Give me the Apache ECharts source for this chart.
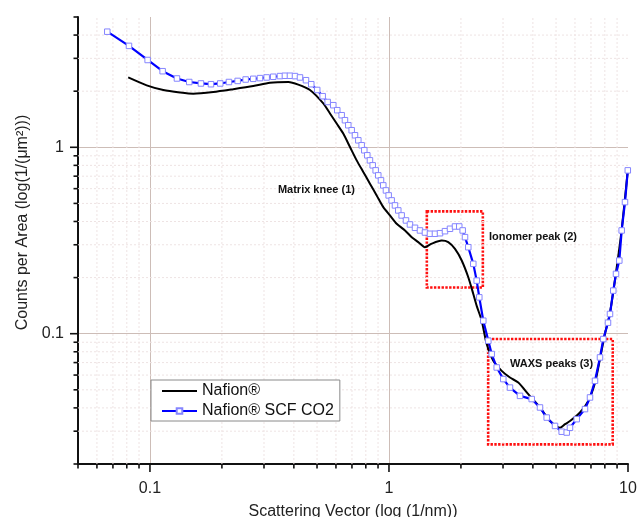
<!DOCTYPE html>
<html><head><meta charset="utf-8">
<script src="https://cdn.jsdelivr.net/npm/echarts@6/dist/echarts.min.js"></script>
<style>html,body{margin:0;padding:0;background:#fff}#c{width:637px;height:517px}</style>
</head><body><div id="c"></div>
<script>
// ---- data ----
const nafionX = [0.0811,0.0969,0.1137,0.1335,0.1518,0.184,0.2231,0.2705,0.3177,0.3791,0.4174,0.4671,0.531,0.5665,0.6042,0.6437,0.6868,0.7326,0.7808,0.8325,0.8882,0.9466,1.0097,1.077,1.167,1.245,1.326,1.414,1.509,1.662,1.77,1.889,2.015,2.147,2.253,2.334,2.443,2.564,2.732,2.962,3.208,3.475,3.826,4.283,4.718,5.193,5.449,5.719,6.297,6.823,7.277,7.635,8.013,8.408,8.909,9.41,9.98];
const nafionY = [2.37,2.15,2.03,1.97,1.94,1.98,2.05,2.13,2.22,2.24,2.17,2.03,1.72,1.518,1.341,1.185,1.004,0.851,0.737,0.638,0.552,0.4775,0.431,0.389,0.358,0.3295,0.31,0.291,0.304,0.316,0.31,0.285,0.247,0.2008,0.1634,0.1397,0.1174,0.088,0.0716,0.0632,0.0582,0.0547,0.0474,0.0402,0.034,0.0313,0.0327,0.034,0.0378,0.0436,0.0545,0.0734,0.1,0.1297,0.213,0.362,0.752];
const scfX = [0.0663,0.0817,0.0978,0.113,0.1297,0.146,0.1634,0.18,0.1968,0.214,0.2328,0.2514,0.2705,0.2885,0.3078,0.328,0.3499,0.367,0.3852,0.4044,0.4243,0.4495,0.473,0.501,0.528,0.554,
  0.5847,0.6076,0.634,0.6544,0.6757,0.6982,0.7208,0.7443,0.7686,0.7884,0.8114,0.8325,0.8548,0.8798,0.902,0.926,0.9466,0.9714,0.997,1.026,1.0595,1.0937,1.13,1.178,1.224,1.285,1.348,1.414,1.484,1.557,1.635,1.715,1.8,1.889,1.968,2.034,2.08,
  2.147,2.253,2.328,2.387,2.481,2.604,2.69,2.823,3.008,3.208,3.533,3.955,4.283,4.569,4.95,5.28,5.541,5.719,6.1,6.608,6.935,7.277,7.635,7.884,8.247,8.408,8.678,8.909,9.196,9.41,9.714,9.98];
const scfY = [4.17,3.5,2.94,2.56,2.34,2.24,2.2,2.18,2.2,2.24,2.27,2.31,2.33,2.35,2.37,2.39,2.41,2.42,2.42,2.41,2.37,2.29,2.18,2.03,1.88,1.75,
  1.682,1.581,1.486,1.397,1.313,1.234,1.16,1.09,1.025,0.9636,0.9057,0.851,0.8003,0.752,0.707,0.6646,0.6246,0.587,0.5519,0.5188,0.4878,0.4585,0.431,0.4051,0.3855,0.37,0.358,0.349,0.3436,0.3436,0.346,0.3548,0.3655,0.376,0.376,0.358,0.3295,
  0.291,0.237,0.1927,0.1567,0.1174,0.0917,0.0778,0.0659,0.0571,0.0514,0.0464,0.0446,0.0402,0.0355,0.032,0.0298,0.0295,0.0313,0.0348,0.0394,0.0455,0.0559,0.0746,0.0936,0.1146,0.1276,0.1703,0.2094,0.2469,0.358,0.508,0.752];
const seriesNames = ['Nafion®', 'Nafion® SCF CO2'];
const xRange = [0.05, 10];
const yRange = [0.02, 5];
const xTickLabels = ['0.1', '1', '10'];
const yTickLabels = ['0.1', '1'];
const xMajorTicks = [0.1, 1, 10];
const yMajorTicks = [0.1, 1];
const xMinorTicks = [0.05,0.06,0.07,0.08,0.09,0.2,0.3,0.4,0.5,0.6,0.7,0.8,0.9,2,3,4,5,6,7,8,9];
const yMinorTicks = [0.02,0.03,0.04,0.05,0.06,0.07,0.08,0.09,0.2,0.3,0.4,0.5,0.6,0.7,0.8,0.9,2,3,4,5];
const boxIonomer = [[1.44, 0.453], [2.47, 0.177]];
const boxWaxs = [[2.60, 0.0936], [8.63, 0.0255]];
const annotTexts = ['Matrix knee (1)', 'Ionomer peak (2)', 'WAXS peaks (3)'];
const annotX = [0.343, 2.62, 3.208];
const annotY = [0.592, 0.3295, 0.0687];

// ---- chart ----
const FONT = '"Liberation Sans", Arial, Helvetica, sans-serif';
const chart = echarts.init(document.getElementById('c'), null, {renderer: 'canvas'});
function fmt(list) {
  return v => { const s = String(parseFloat(Number(v).toPrecision(6))); return list.includes(s) ? s : ''; };
}
function tickData(vals, major, axis) {
  return vals.map(v => axis === 'x' ? [v, yRange[0], major ? 1 : 0] : [xRange[0], v, major ? 1 : 0]);
}
function renderX(params, api) {
  const v = api.value(0), major = api.value(2) === 1;
  const b = api.coord([v, yRange[0]]), t = api.coord([v, yRange[1]]);
  const ch = [];
  const isEdge = (v <= xRange[0] * 1.0001 || v >= xRange[1] * 0.9999);
  if (!major && !isEdge) ch.push({type: 'line', shape: {x1: b[0], y1: b[1], x2: t[0], y2: t[1]}, style: {stroke: '#eee3e3', lineWidth: 1, lineDash: [2, 2]}});
  ch.push({type: 'line', shape: {x1: b[0], y1: b[1], x2: b[0], y2: b[1] + (major ? 8 : 4.5)}, style: {stroke: '#111', lineWidth: 1.6}});
  return {type: 'group', children: ch};
}
function renderY(params, api) {
  const v = api.value(1), major = api.value(2) === 1;
  const l = api.coord([xRange[0], v]), r = api.coord([xRange[1], v]);
  const ch = [];
  const isEdge = (v <= yRange[0] * 1.0001 || v >= yRange[1] * 0.9999);
  if (!major && !isEdge) ch.push({type: 'line', shape: {x1: l[0], y1: l[1], x2: r[0], y2: r[1]}, style: {stroke: '#eee3e3', lineWidth: 1, lineDash: [2, 2]}});
  ch.push({type: 'line', shape: {x1: l[0], y1: l[1], x2: l[0] - (major ? 8 : 4.5), y2: l[1]}, style: {stroke: '#111', lineWidth: 1.6}});
  return {type: 'group', children: ch};
}
const areaStyle = {color: 'rgba(0,0,0,0)', borderColor: '#ff1010', borderWidth: 2.6, borderType: [2.4, 1.4]};
chart.setOption({
  animation: false,
  backgroundColor: '#fff',
  textStyle: {fontFamily: FONT},
  grid: {left: 78, top: 17, right: 9, bottom: 53, containLabel: false, outerBoundsMode: 'none'},
  legend: {
    data: [{name: seriesNames[0], itemStyle: {opacity: 0}}, {name: seriesNames[1]}],
    orient: 'vertical', left: 151, top: 380,
    backgroundColor: '#fff', borderColor: '#8a8a8a', borderWidth: 1,
    padding: [3, 6, 2, 10], itemGap: 4, itemWidth: 35, itemHeight: 7,
    textStyle: {fontSize: 16, color: '#111', fontFamily: FONT}
  },
  xAxis: {
    type: 'log', logBase: 10, min: xRange[0], max: xRange[1],
    name: 'Scattering Vector (log (1/nm))', nameLocation: 'middle', nameGap: 40,
    nameTextStyle: {fontSize: 16, color: '#222', fontFamily: FONT},
    axisLine: {show: true, onZero: false, lineStyle: {color: '#111', width: 2}},
    axisTick: {show: false},
    axisLabel: {fontSize: 16, color: '#222', margin: 17, formatter: fmt(xTickLabels), fontFamily: FONT},
    splitLine: {show: true, showMinLine: false, showMaxLine: false, lineStyle: {color: '#cdbdb7', width: 1}},
    minorTick: {show: false}, minorSplitLine: {show: false}
  },
  yAxis: {
    type: 'log', logBase: 10, min: yRange[0], max: yRange[1],
    name: 'Counts per Area (log(1/(μm²)))', nameLocation: 'middle', nameGap: 46,
    nameTextStyle: {fontSize: 16, color: '#222', fontFamily: FONT, padding: [0, 0, 0, 36]},
    axisLine: {show: true, onZero: false, lineStyle: {color: '#111', width: 2}},
    axisTick: {show: false},
    axisLabel: {fontSize: 16, color: '#222', margin: 14, formatter: fmt(yTickLabels), fontFamily: FONT},
    splitLine: {show: true, showMinLine: false, showMaxLine: false, lineStyle: {color: '#cdbdb7', width: 1}},
    minorTick: {show: false}, minorSplitLine: {show: false}
  },
  series: [
    {type: 'custom', name: 'xticks', silent: true, clip: false, z: 1, renderItem: renderX,
     data: tickData(xMinorTicks, false, 'x').concat(tickData(xMajorTicks, true, 'x'))},
    {type: 'custom', name: 'yticks', silent: true, clip: false, z: 1, renderItem: renderY,
     data: tickData(yMinorTicks, false, 'y').concat(tickData(yMajorTicks, true, 'y'))},
    {
      name: seriesNames[0], type: 'line', z: 3,
      data: nafionX.map((x, i) => [x, nafionY[i]]),
      symbol: 'none', smooth: 0.25,
      lineStyle: {color: '#000', width: 2}, itemStyle: {color: '#000'},
      markArea: {silent: true, label: {show: false}, itemStyle: areaStyle,
        data: [
          [{xAxis: boxIonomer[0][0], yAxis: boxIonomer[0][1]}, {xAxis: boxIonomer[1][0], yAxis: boxIonomer[1][1]}],
          [{xAxis: boxWaxs[0][0], yAxis: boxWaxs[0][1]}, {xAxis: boxWaxs[1][0], yAxis: boxWaxs[1][1]}]
        ]}
    },
    {
      name: seriesNames[1], type: 'line', z: 4,
      data: scfX.map((x, i) => [x, scfY[i]]),
      symbol: 'rect', symbolSize: 5.5, showSymbol: true,
      lineStyle: {color: '#0000ff', width: 2.2},
      itemStyle: {color: '#ffffff', borderColor: '#8585ff', borderWidth: 1}
    }
  ]
});
const pts = annotTexts.map((t, i) => chart.convertToPixel({gridIndex: 0}, [annotX[i], annotY[i]]));
chart.setOption({
  graphic: annotTexts.map((t, i) => ({
    type: 'text', x: pts[i][0], y: pts[i][1], z: 10, silent: true,
    style: {text: t, fontSize: 11, fontWeight: 'bold', fontFamily: FONT, fill: '#111', align: 'left', verticalAlign: 'middle'}
  }))
});
</script>
</body></html>
